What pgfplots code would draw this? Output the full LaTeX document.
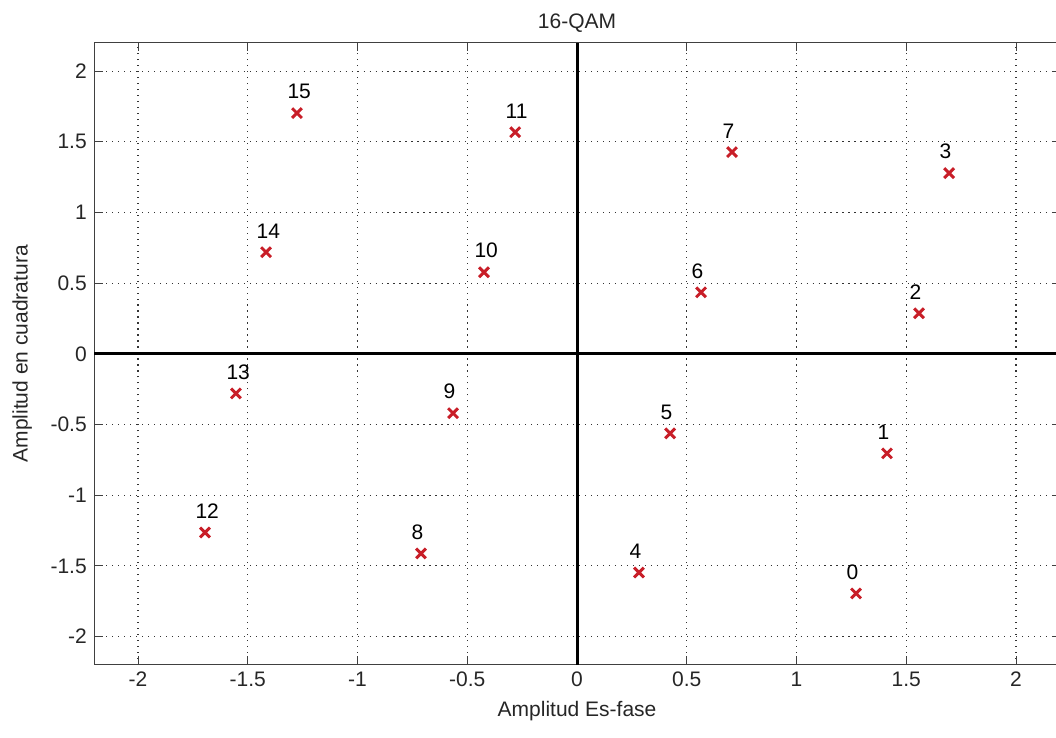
\documentclass[border=0pt]{standalone}
\usepackage{pgfplots}
\pgfplotsset{compat=1.18}
\usepackage{fontspec}
\setmainfont{Liberation Sans}
\definecolor{mkred}{RGB}{200,30,40}
\begin{document}
\begin{tikzpicture}
\begin{axis}[
  x=104.5pt, y=67.3pt,
  xmin=-2.2, xmax=2.2, ymin=-2.2, ymax=2.2,
  xtick={-2,-1.5,...,2}, ytick={-2,-1.5,...,2},
  xticklabels={-2,-1.5,-1,-0.5,0,0.5,1,1.5,2},
  yticklabels={-2,-1.5,-1,-0.5,0,0.5,1,1.5,2},
  tick align=inside, major tick length=4pt,
  tick style={black!75, line width=0.5pt},
  axis line style={black!75, line width=0.5pt},
  grid=major,
  grid style={black!80, line width=0.55pt, dash pattern=on 0.55pt off 2.3pt},
  tick label style={font=\fontsize{10}{12}\selectfont, text=black!85},
  label style={font=\fontsize{10}{12}\selectfont, text=black!85},
  title style={font=\fontsize{10}{12}\selectfont, text=black!85, yshift=-4.5pt},
  title={16-QAM},
  xlabel={Amplitud Es-fase},
  ylabel={Amplitud en cuadratura},
  ylabel style={xshift=0pt, yshift=2pt},
  clip=false,
]
% ejes en el origen
\addplot[black, line width=1.4pt] coordinates {(-2.2,0) (2.2,0)};
\addplot[black, line width=1.4pt] coordinates {(0,-2.2) (0,2.2)};
% constelacion
\addplot[only marks, mark=x, mark size=3.3pt, mkred, line width=1.4pt,
  nodes near coords, point meta=explicit symbolic,
  nodes near coords style={anchor=south west, inner sep=0pt,
    xshift=-5.2pt, yshift=6pt, text=black, font=\fontsize{10}{12}\selectfont}]
  table[meta=label] {
x y label
1.271 -1.695 0
1.412 -0.704 1
1.558 0.287 2
1.695 1.278 3
0.282 -1.547 4
0.424 -0.563 5
0.565 0.435 6
0.706 1.427 7
-0.711 -1.412 8
-0.565 -0.420 9
-0.424 0.577 10
-0.282 1.568 11
-1.695 -1.264 12
-1.554 -0.280 13
-1.417 0.719 14
-1.276 1.703 15
};
\coordinate (bbll) at (axis cs:-2.629,-2.713);
\coordinate (bbur) at (axis cs:2.182,2.503);
\end{axis}
\pgfresetboundingbox
\path[use as bounding box] (bbll) rectangle (bbur);
\end{tikzpicture}
\end{document}
